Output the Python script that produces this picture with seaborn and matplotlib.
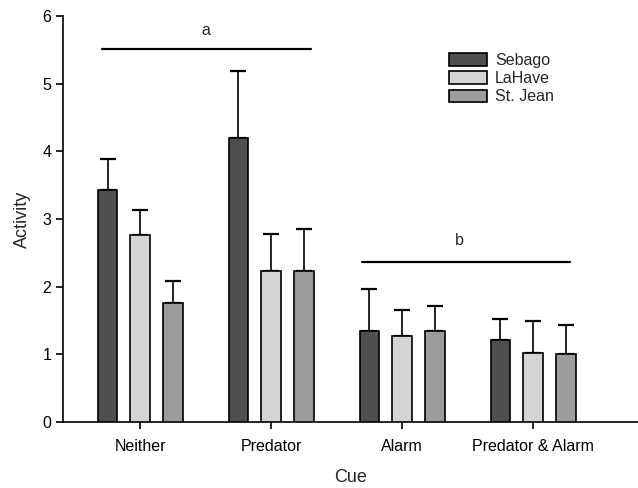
import matplotlib
matplotlib.use("Agg")
import matplotlib.pyplot as plt
import seaborn as sns
import pandas as pd
import numpy as np

cues = ["Neither", "Predator", "Alarm", "Predator & Alarm"]
populations = ["Sebago", "LaHave", "St. Jean"]
sebago = [3.43, 4.20, 1.35, 1.21]
lahave = [2.77, 2.23, 1.27, 1.02]
stjean = [1.76, 2.24, 1.34, 1.00]
sebago_top = [3.89, 5.19, 1.96, 1.52]
lahave_top = [3.13, 2.78, 1.65, 1.49]
stjean_top = [2.08, 2.86, 1.71, 1.44]
colors = ["#4f4f4f", "#d4d4d4", "#9c9c9c"]

rows = []
for pop, vals, tops in zip(populations, [sebago, lahave, stjean], [sebago_top, lahave_top, stjean_top]):
    for c, v, t in zip(cues, vals, tops):
        rows.append({"Cue": c, "Population": pop, "Activity": v, "Top": t})
df = pd.DataFrame(rows)

sns.set_style("ticks")
plt.rcParams["font.family"] = ["Liberation Sans", "DejaVu Sans"]

fig = plt.figure(figsize=(6.38, 4.88), dpi=100)
ax = fig.add_axes([0.0987, 0.135, 0.9013, 0.832])

sns.barplot(data=df, x="Cue", y="Activity", hue="Population", order=cues,
            hue_order=populations, palette=colors, width=0.75, gap=0.4,
            edgecolor="black", linewidth=1.2, errorbar=None, ax=ax, zorder=3)

# error bars (upper only) positioned from the drawn bars
for pop, cont in zip(populations, ax.containers):
    sub = df[df.Population == pop].set_index("Cue").loc[cues]
    xs = [p.get_x() + p.get_width() / 2 for p in cont.patches]
    ys = sub["Activity"].values
    up = sub["Top"].values - ys
    ax.errorbar(xs, ys, yerr=[np.zeros_like(up), up], fmt="none", ecolor="black",
                elinewidth=1.2, capsize=6, capthick=1.6, zorder=2)

# significance lines
ax.plot([-0.29, 1.30], [5.52, 5.52], color="black", lw=1.6, zorder=4)
ax.text(0.5, 5.78, "a", ha="center", va="center", fontsize=11.5)
ax.plot([1.69, 3.28], [2.37, 2.37], color="black", lw=1.6, zorder=4)
ax.text(2.44, 2.68, "b", ha="center", va="center", fontsize=11.5)

ax.set_xlim(-0.59, 3.80)
ax.set_ylim(0, 6)
ax.set_yticks([0, 1, 2, 3, 4, 5, 6])
ax.tick_params(axis="both", labelsize=11.5, length=5, width=1.2, colors="black")
ax.tick_params(axis="x", pad=7)
ax.set_xlabel("Cue", fontsize=13, labelpad=11)
ax.set_ylabel("Activity", fontsize=13, labelpad=8)
for s in ["top", "right"]:
    ax.spines[s].set_visible(False)
for s in ["left", "bottom"]:
    ax.spines[s].set_linewidth(1.2)
    ax.spines[s].set_color("black")

ax.legend(loc="upper left", bbox_to_anchor=(0.66, 0.925), frameon=False,
          fontsize=11.5, handlelength=2.4, handleheight=0.8, labelspacing=0.2,
          handletextpad=0.5, borderaxespad=0)

fig.savefig("out.png", dpi=100)
